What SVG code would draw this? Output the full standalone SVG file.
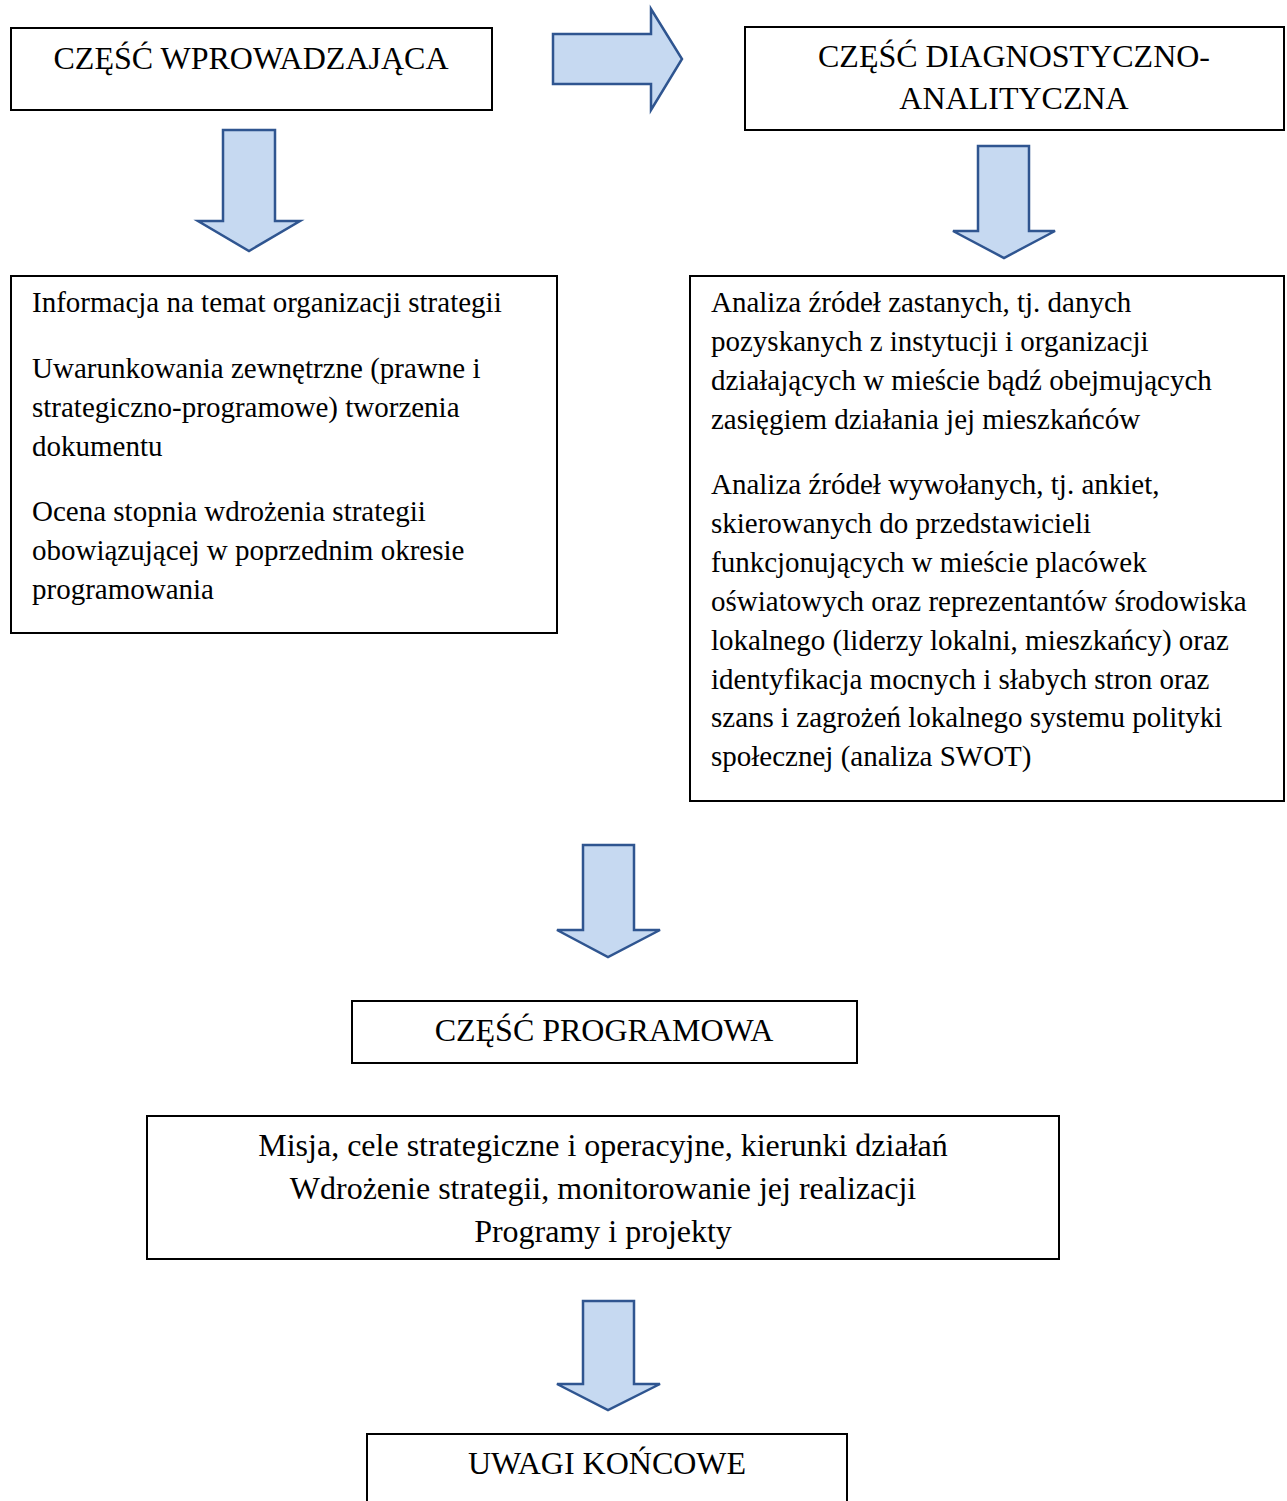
<svg xmlns="http://www.w3.org/2000/svg" width="1287" height="1501" viewBox="0 0 1287 1501">
<style>
.box{fill:#fff;stroke:#000;stroke-width:2}
.arr{fill:#C6D9F1;stroke:#2F5590;stroke-width:2.5;stroke-linejoin:miter}
text{font-family:"Liberation Serif","Times New Roman",serif;font-size:29px;fill:#000}
.c{text-anchor:middle}
.t{font-size:32px}
</style>
<rect width="1287" height="1501" fill="#fff"/>
<g id="connectors">
<path class="arr" d="M553,34 H651 V9 L682,59 L651,110 V84 H553 Z"/>
<path class="arr" d="M223,130 H275 V221 H300 L249,251 L198,221 H223 Z"/>
<path class="arr" d="M978,146 H1029 V231 H1055 L1004,258 L953,231 H978 Z"/>
<path class="arr" d="M583,845 H634 V930 H660 L608,957 L557,930 H583 Z"/>
<path class="arr" d="M583,1301 H634 V1384 H660 L608,1410 L557,1384 H583 Z"/>
</g>
<g id="n1">
<rect class="box" x="11" y="28" width="481" height="82"/>
<text class="c t" x="251" y="69">CZĘŚĆ WPROWADZAJĄCA</text>
</g>
<g id="n2">
<rect class="box" x="745" y="27" width="539" height="103"/>
<text class="c t" x="1014" y="67">CZĘŚĆ DIAGNOSTYCZNO-</text>
<text class="c t" x="1014" y="109">ANALITYCZNA</text>
</g>
<g id="n3">
<rect class="box" x="11" y="276" width="546" height="357"/>
<text x="32" y="312">Informacja na temat organizacji strategii</text>
<text x="32" y="378">Uwarunkowania zewnętrzne (prawne i</text>
<text x="32" y="417">strategiczno-programowe) tworzenia</text>
<text x="32" y="456">dokumentu</text>
<text x="32" y="521">Ocena stopnia wdrożenia strategii</text>
<text x="32" y="560">obowiązującej w poprzednim okresie</text>
<text x="32" y="599">programowania</text>
</g>
<g id="n4">
<rect class="box" x="690" y="276" width="594" height="525"/>
<text x="711" y="312">Analiza źródeł zastanych, tj. danych</text>
<text x="711" y="351">pozyskanych z instytucji i organizacji</text>
<text x="711" y="390">działających w mieście bądź obejmujących</text>
<text x="711" y="429">zasięgiem działania jej mieszkańców</text>
<text x="711" y="494">Analiza źródeł wywołanych, tj. ankiet,</text>
<text x="711" y="533">skierowanych do przedstawicieli</text>
<text x="711" y="572">funkcjonujących w mieście placówek</text>
<text x="711" y="611">oświatowych oraz reprezentantów środowiska</text>
<text x="711" y="650">lokalnego (liderzy lokalni, mieszkańcy) oraz</text>
<text x="711" y="689">identyfikacja mocnych i słabych stron oraz</text>
<text x="711" y="727">szans i zagrożeń lokalnego systemu polityki</text>
<text x="711" y="766">społecznej (analiza SWOT)</text>
</g>
<g id="n5">
<rect class="box" x="352" y="1001" width="505" height="62"/>
<text class="c t" x="604" y="1041">CZĘŚĆ PROGRAMOWA</text>
</g>
<g id="n6">
<rect class="box" x="147" y="1116" width="912" height="143"/>
<text class="c t" x="603" y="1156">Misja, cele strategiczne i operacyjne, kierunki działań</text>
<text class="c t" x="603" y="1199">Wdrożenie strategii, monitorowanie jej realizacji</text>
<text class="c t" x="603" y="1242">Programy i projekty</text>
</g>
<g id="n7">
<rect class="box" x="367" y="1434" width="480" height="80"/>
<text class="c t" x="607" y="1474">UWAGI KOŃCOWE</text>
</g>
</svg>
